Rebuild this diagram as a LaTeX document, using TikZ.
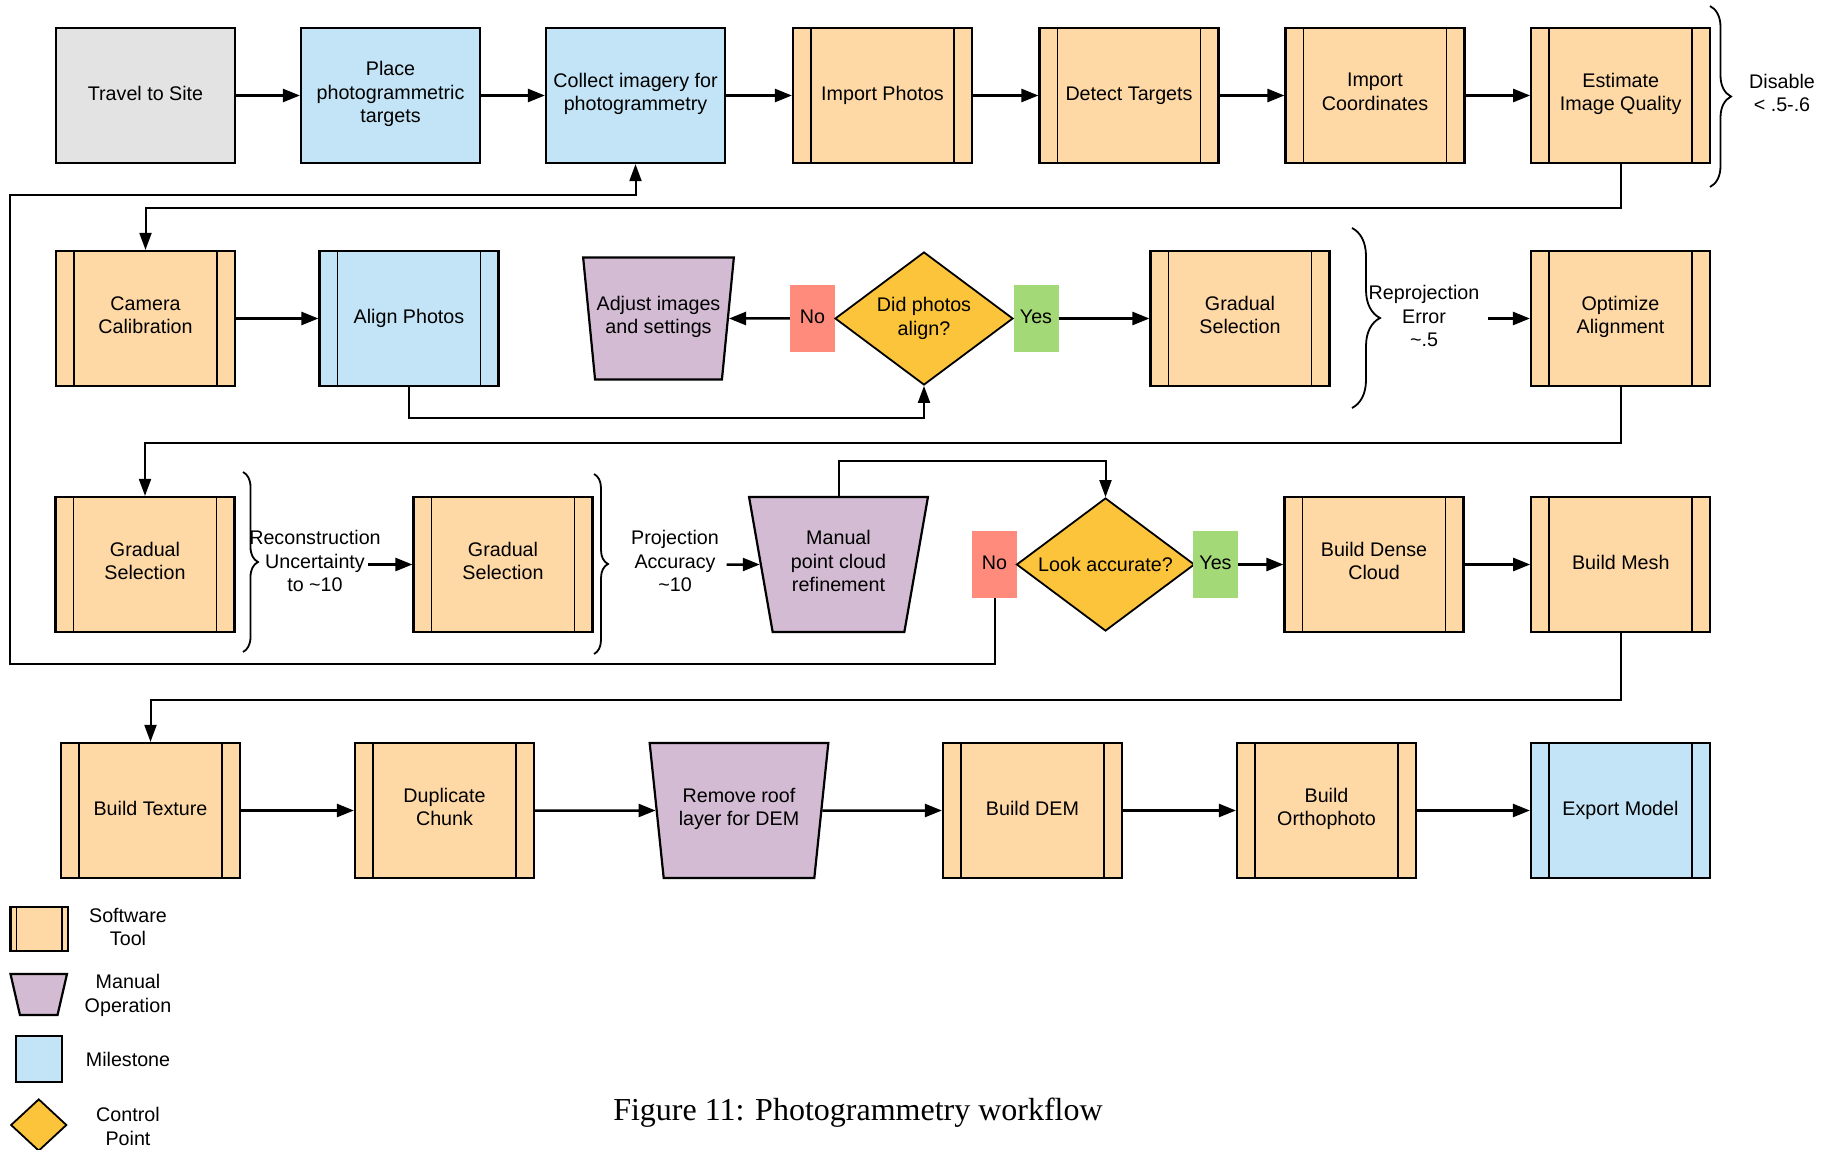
\documentclass[tikz,border=0pt]{standalone}
\usepackage{fontspec}
\setmainfont{Liberation Sans}
\newfontfamily\capfont{Liberation Serif}
\usetikzlibrary{shapes.geometric,arrows.meta,decorations.pathreplacing,calc}
\definecolor{sw}{HTML}{FED9A6}
\definecolor{ms}{HTML}{C2E4F6}
\definecolor{gr}{HTML}{E3E3E3}
\definecolor{mo}{HTML}{D3BBD3}
\definecolor{cp}{HTML}{FCC43A}
\definecolor{nofill}{HTML}{FF8B7D}
\definecolor{yesfill}{HTML}{A4D977}
\newcommand\myfs{\fontsize{19.7pt}{23.5pt}\selectfont}
\newcommand\mystrut{\rule[-7.2pt]{0pt}{23.5pt}}
\tikzset{
  struts/.style={execute at begin node=\mystrut, execute at end node=\mystrut},
  base/.style={draw, line width=2.2pt, minimum width=179pt, minimum height=135pt,
    inner sep=2pt, align=center, font=\myfs, struts},
  plainbox/.style={base, rectangle},
  bars/.style={path picture={\draw[line width=1.8pt]
     ([xshift=#1]path picture bounding box.north west) -- ([xshift=#1]path picture bounding box.south west)
     ([xshift=-#1]path picture bounding box.north east) -- ([xshift=-#1]path picture bounding box.south east);}},
  bars/.default=18pt,
  toolbox/.style={base, rectangle, fill=sw, bars},
  milebar/.style={base, rectangle, fill=ms, bars},
  manop/.style={draw, line width=2.2pt, fill=mo, trapezium, trapezium stretches=true,
    shape border rotate=180, trapezium left angle=76, trapezium right angle=76,
    minimum width=179pt, minimum height=135pt, inner sep=0pt, align=center, font=\myfs, struts},
  decision/.style={draw, line width=1.8pt, fill=cp, diamond, aspect=1.34,
    minimum width=178pt, minimum height=133pt, inner sep=0pt, align=center, font=\myfs},
  nobox/.style={fill=nofill, minimum width=45pt, minimum height=67pt, inner sep=0pt, font=\myfs, struts},
  yesbox/.style={fill=yesfill, minimum width=45pt, minimum height=67pt, inner sep=0pt, font=\myfs, struts},
  lbl/.style={align=center, font=\myfs, inner sep=0pt},
  arr/.style={line width=2.5pt, -{Triangle[length=17pt,width=13pt]}},
  loopline/.style={line width=2pt, -{Triangle[length=17pt,width=12pt]}},
  bracestyle/.style={line width=1.8pt, decorate, decoration={brace, amplitude=#1}},
}
\begin{document}
\begin{tikzpicture}[x=1pt, y=-1pt]
\useasboundingbox (0,0) rectangle (1837,1150);
% Row 1
\node[plainbox, fill=gr] (travel) at (145.5,95.5) {Travel to Site};
\node[plainbox, fill=ms] (place) at (390.5,95.5) {Place\\photogrammetric\\targets};
\node[plainbox, fill=ms] (collect) at (635.5,95.5) {Collect imagery for\\photogrammetry};
\node[toolbox] (impph) at (882.5,95.5) {Import Photos};
\node[toolbox] (detect) at (1129,95.5) {Detect Targets};
\node[toolbox] (impco) at (1375,95.5) {Import\\Coordinates};
\node[toolbox] (estim) at (1620.75,95.5) {Estimate\\Image Quality};
\draw[arr] (travel) -- (place);
\draw[arr] (place) -- (collect);
\draw[arr] (collect) -- (impph);
\draw[arr] (impph) -- (detect);
\draw[arr] (detect) -- (impco);
\draw[arr] (impco) -- (estim);
\coordinate (b1a) at (1710,6);
\coordinate (b1b) at (1710,187);
\draw[bracestyle=21pt] (b1a) -- (b1b);
\node[lbl] (disable) at (1782,93) {Disable\\< .5-.6};
% Row 2
\node[toolbox] (camcal) at (145.5,318.5) {Camera\\Calibration};
\node[milebar] (align) at (409,318.5) {Align Photos};
\node[manop, minimum width=151pt, minimum height=122pt, trapezium left angle=75.5,
  trapezium right angle=75.5] (adjust) at (658.5,318.5) {Adjust images\\and settings};
\node[nobox] (no1) at (812.5,318.5) {No};
\node[decision] (q1) at (924,318.5) {Did photos\\align?};
\node[yesbox] (yes1) at (1036,318.5) {Yes};
\node[toolbox] (gs0) at (1240,318.5) {Gradual\\Selection};
\coordinate (b2a) at (1352,228);
\coordinate (b2b) at (1352,408);
\draw[bracestyle=28pt] (b2a) -- (b2b);
\node[lbl] (reproj) at (1424,316) {Reprojection\\Error\\\textasciitilde.5};
\coordinate (r1) at (1488,318.5);
\node[toolbox] (optim) at (1620.5,318.5) {Optimize\\Alignment};
\draw[arr] (camcal) -- (align);
\draw[arr] (no1) -- (adjust);
\draw[arr] (yes1) -- (gs0);
\draw[arr] (r1) -- (optim);
% Row 3
\node[toolbox] (gs1) at (145,564.5) {Gradual\\Selection};
\coordinate (b3a) at (243,472);
\coordinate (b3b) at (243,652);
\draw[bracestyle=15pt] (b3a) -- (b3b);
\node[lbl] (recon) at (315,561) {Reconstruction\\Uncertainty\\to \textasciitilde10};
\coordinate (r2) at (368,564.5);
\node[toolbox] (gs2) at (503,564.5) {Gradual\\Selection};
\coordinate (b4a) at (594,474);
\coordinate (b4b) at (594,654);
\draw[bracestyle=14pt] (b4a) -- (b4b);
\node[lbl] (proj) at (675,561) {Projection\\Accuracy\\\textasciitilde10};
\coordinate (r3) at (726.5,564.5);
\node[manop] (mpc) at (838.5,564.5) {Manual\\point cloud\\refinement};
\node[nobox] (no2) at (994.5,564.5) {No};
\node[decision] (q2) at (1105.5,564.5) {Look accurate?};
\node[yesbox] (yes2) at (1215.5,564.5) {Yes};
\node[toolbox] (dense) at (1374,564.5) {Build Dense\\Cloud};
\node[toolbox] (mesh) at (1620.75,564.5) {Build Mesh};
\draw[arr] (r2) -- (gs2);
\draw[arr] (r3) -- (mpc);
\draw[arr] (yes2) -- (dense);
\draw[arr] (dense) -- (mesh);
% Row 4
\node[toolbox] (texture) at (150.5,810.5) {Build Texture};
\node[toolbox] (dup) at (444.5,810.5) {Duplicate\\Chunk};
\node[manop] (roof) at (739,810.5) {Remove roof\\layer for DEM};
\node[toolbox] (dem) at (1032.5,810.5) {Build DEM};
\node[toolbox] (ortho) at (1326.5,810.5) {Build\\Orthophoto};
\node[milebar] (export) at (1620.5,810.5) {Export Model};
\draw[arr] (texture) -- (dup);
\draw[arr] (dup) -- (roof);
\draw[arr] (roof) -- (dem);
\draw[arr] (dem) -- (ortho);
\draw[arr] (ortho) -- (export);
% loop connectors
\draw[loopline] (estim.south) -- ++(0,44) -| (camcal.north);
\draw[loopline] (align.south) -- ++(0,31) -| (q1.south);
\draw[loopline] (optim.south) -- ++(0,56) -| (gs1.north);
\draw[loopline] (mpc.north) -- ++(0,-35) -| (q2.north);
\draw[loopline] (mesh.south) -- ++(0,67) -| (texture.north);
\coordinate (lc1) at (10,664);
\coordinate (lc2) at (10,195);
\draw[loopline] (no2.south) |- (lc1) -- (lc2) -| (collect.south);
% Legend
\node[base, rectangle, fill=sw, bars=6pt, minimum width=57.5pt, minimum height=44pt] (lsw) at (39.25,929) {};
\node[lbl] (tsw) at (128,927) {Software\\Tool};
\coordinate (lmo) at (38.75,994.5);
\draw[line width=2.2pt, fill=mo] ($(lmo)+(-28.25,-20.5)$) -- ($(lmo)+(28.25,-20.5)$)
  -- ($(lmo)+(18.8,20.5)$) -- ($(lmo)+(-18.8,20.5)$) -- cycle;
\node[lbl] (tmo) at (128,995.5) {Manual\\Operation};
\node[base, rectangle, fill=ms, minimum width=46pt, minimum height=46pt] (lms) at (39,1059) {};
\node[lbl] (tms) at (128,1059) {Milestone};
\node[decision, minimum width=56pt, minimum height=52pt] (lcp) at (38.75,1125) {};
\node[lbl] (tcp) at (128,1126.5) {Control\\Point};
% Caption
\node[font=\capfont\fontsize{32pt}{38pt}\selectfont, inner sep=0pt] (cap) at (858,1112.5) {Figure 11: Photogrammetry workflow};
\end{tikzpicture}
\end{document}
